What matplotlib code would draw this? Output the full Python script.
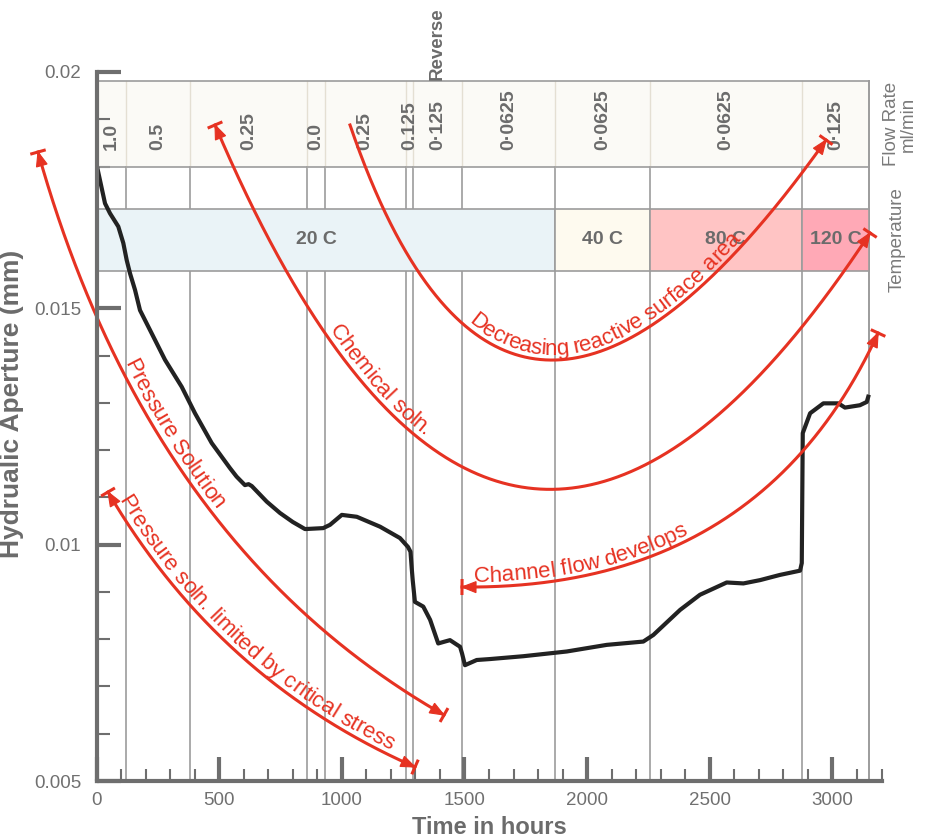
import numpy as np
import matplotlib
matplotlib.use("Agg")
import matplotlib.pyplot as plt
from matplotlib.font_manager import FontProperties
from matplotlib.patches import Polygon, Rectangle

plt.rcParams['font.family'] = ['Liberation Sans', 'DejaVu Sans']

# ---------------- data ----------------
time_h = [0.8, 0.8, 34.7, 55.0, 88.9, 109.3, 123.1, 136.6, 157.0, 177.3, 225.0, 279.3,
          347.3, 401.5, 469.6, 544, 571, 605, 620, 633, 694, 748,
          800, 850, 924, 952, 1000, 1061, 1156, 1237, 1270, 1280, 1285, 1289, 1298,
          1332, 1360, 1393, 1420, 1441, 1482, 1490, 1502, 1550, 1604, 1740, 1917,
          2080, 2229, 2270, 2379, 2460, 2569, 2637, 2705, 2786, 2868, 2875, 2877,
          2879, 2909, 2963, 3024, 3051, 3112, 3140, 3146]
aperture_mm = [0.01856, 0.01803, 0.01722, 0.01701, 0.01673, 0.01638, 0.01602, 0.01574,
               0.01539, 0.01496, 0.01447, 0.01391, 0.01334, 0.01278, 0.01215,
               0.01162, 0.01144, 0.01126, 0.01128, 0.01124, 0.01091, 0.01067,
               0.01048, 0.01033, 0.01035, 0.01042, 0.01063, 0.01059, 0.01038, 0.01014,
               0.00995, 0.00985, 0.00950, 0.00925, 0.00879, 0.00869, 0.00841, 0.00791,
               0.00795, 0.00798, 0.00784, 0.00770, 0.00745, 0.00756, 0.00758, 0.00764,
               0.00774, 0.00788, 0.00795, 0.00809, 0.00862, 0.00894, 0.00920, 0.00918,
               0.00925, 0.00936, 0.00945, 0.00961, 0.01100, 0.01236, 0.01278, 0.01299,
               0.01299, 0.01290, 0.01295, 0.01302, 0.01313]

flow_edges = [0, 120, 380, 860, 930, 1260, 1290, 1490, 1870, 2255, 2875, 3150]
flow_labels = ['1.0', '0.5', '0.25', '0.0', '0.25', '0.125', '0\u00b7125',
               '0\u00b70625', '0\u00b70625', '0\u00b70625', '0\u00b7125']
flow_band = (0.0180, 0.0198)

temp_edges = [0, 1870, 2255, 2875, 3150]
temp_labels = ['20 C', '40 C', '80 C', '120 C']
temp_colors = ['#EAF3F7', '#FEFAEF', '#FFC4C4', '#FFA9B6']
temp_band = (0.0158, 0.0171)

x_ticks = [0, 500, 1000, 1500, 2000, 2500, 3000]
x_minor = list(range(0, 3201, 100))
y_ticks = [0.005, 0.01, 0.015, 0.02]
y_ticklabels = ['0.005', '0.01', '0.015', '0.02']
y_minor = [0.005 + 0.001 * i for i in range(16)]

# annotation curves: quadratic Bezier control points (hours, mm)
arc_pressure = [(-238.5, 0.018307), (214.0, 0.009961), (1416.6, 0.006396)]
arc_critical = [(46.9, 0.011114), (497.4, 0.007126), (1298.4, 0.005296)]
arc_chemical = [(483.1, 0.018879), (1644.9, 0.004704), (3153.3, 0.016594)]
arc_surface = [(1033.4, 0.018879), (1677.5, 0.009094), (2973.9, 0.018561)]
arc_channel = [(1490.0, 0.009104), (2704.9, 0.009041), (3186.1, 0.014478)]

annotations = [
    # points, text, text start (px along curve), heads at (start, end)
    (arc_pressure, 'Pressure Solution', 228, (True, True)),
    (arc_critical, 'Pressure soln. limited by critical stress', 12, (True, True)),
    (arc_chemical, 'Chemical soln.', 235, (True, True)),
    (arc_surface, 'Decreasing reactive surface area', 234, (False, True)),
    (arc_channel, 'Channel flow develops', 12, (True, True)),
]

RED = '#E63222'
GREY_TXT = '#6b6b6b'
AX_GREY = '#6e6e6e'

# ---------------- figure ----------------
fig = plt.figure(figsize=(9.35, 8.4), dpi=100)
ax = fig.add_axes([96.5 / 935, 1 - 781 / 840, 785 / 935, 709 / 840])
ax.set_xlim(0, 3200)
ax.set_ylim(0.005, 0.02)

for s in ['top', 'right']:
    ax.spines[s].set_visible(False)
for s in ['left', 'bottom']:
    ax.spines[s].set_color(AX_GREY)
    ax.spines[s].set_linewidth(3)
    ax.spines[s].set_zorder(7)

ax.set_xticks(x_ticks)
ax.set_xticks(x_minor, minor=True)
ax.set_yticks(y_ticks)
ax.set_yticklabels(y_ticklabels)
ax.set_yticks(y_minor, minor=True)
ax.tick_params(which='major', direction='in', length=17, width=3, color=AX_GREY,
               labelsize=13.5, labelcolor='#707070', top=False, right=False)
ax.tick_params(which='minor', direction='in', length=9, width=1.5, color=AX_GREY,
               top=False, right=False)
ax.tick_params(axis='x', which='major', pad=8)
ax.tick_params(axis='y', which='major', pad=11)

lab_fp = dict(family=['Liberation Sans Narrow', 'Liberation Sans'], weight='bold',
              color=GREY_TXT)
ax.set_xlabel('Time in hours', fontsize=17, labelpad=5, **lab_fp)
ax.set_ylabel('Hydrualic Aperture (mm)', fontsize=19, **lab_fp)
ax.yaxis.set_label_coords(-0.092, 0.532)

xr = flow_edges[-1]
# flow-rate band
ax.add_patch(Rectangle((0, flow_band[0]), xr, flow_band[1] - flow_band[0],
                       facecolor='#FBFAF6', edgecolor='none', zorder=0.5))
for x in flow_edges[1:-1]:
    ax.plot([x, x], [0.005, flow_band[0]], color='#9c9c9c', lw=1.2, zorder=1)
    ax.plot([x, x], [flow_band[0], flow_band[1]], color='#e4dfd3', lw=1.0, zorder=1)
ax.plot([xr, xr], [0.005, flow_band[1]], color='#9c9c9c', lw=1.4, zorder=2, clip_on=False)
for y in flow_band:
    ax.plot([0, xr], [y, y], color='#9c9c9c', lw=1.2, zorder=2)
for i, lab in enumerate(flow_labels):
    xc = 0.5 * (flow_edges[i] + flow_edges[i + 1])
    ax.text(xc, 0.01835, lab, rotation=90, ha='center', va='bottom', fontsize=14,
            fontweight='bold', color=GREY_TXT, zorder=3)

# temperature band
for i, lab in enumerate(temp_labels):
    x0, x1 = temp_edges[i], temp_edges[i + 1]
    ax.add_patch(Rectangle((x0, temp_band[0]), x1 - x0, temp_band[1] - temp_band[0],
                           facecolor=temp_colors[i], edgecolor='#9c9c9c', lw=1.2,
                           zorder=2))
    ax.text(0.5 * (x0 + x1) - (40 if i == 0 else 0), 0.5 * sum(temp_band), lab,
            ha='center', va='center', fontsize=14, fontweight='bold',
            color=GREY_TXT, zorder=3)

ax.text(1390, flow_band[1] + 0.00003, 'Reverse', rotation=90, ha='center', va='bottom',
        fontsize=13.5, fontweight='bold', color=GREY_TXT, clip_on=False)
ax.text(3275, 0.01890, 'Flow Rate\nml/min', rotation=90, ha='center', va='center',
        multialignment='center', fontsize=13.5, color='#7a7a7a', clip_on=False,
        linespacing=1.0)
ax.text(3265, 0.01645, 'Temperature', rotation=90, ha='center', va='center',
        fontsize=13.5, color='#7a7a7a', clip_on=False)

# data curve
ax.plot(time_h, aperture_mm, color='#222222', lw=3, zorder=4, solid_joinstyle='round')

# ---------------- annotations ----------------
renderer = fig.canvas.get_renderer()
ann_fp = FontProperties(family=['Liberation Sans', 'DejaVu Sans'], size=16)
to_disp = ax.transData.transform
to_data = ax.transData.inverted().transform
to_fig = fig.transFigure.inverted().transform


def bezier(P, n=3000):
    P = np.asarray(P, dtype=float)
    t = np.linspace(0, 1, n)[:, None]
    return (1 - t) ** 2 * P[0] + 2 * t * (1 - t) * P[1] + t ** 2 * P[2]


def head(tip, direction):
    d = direction / np.hypot(*direction)
    n = np.array([-d[1], d[0]])
    L, W, B = 14, 5.5, 8
    base = tip - d * L
    tri = to_data(np.array([tip, base + n * W, base - n * W]))
    ax.add_patch(Polygon(tri, closed=True, facecolor=RED, edgecolor=RED, lw=0.8,
                         clip_on=False, zorder=6))
    bar = to_data(np.array([tip + n * B, tip - n * B]))
    ax.plot(bar[:, 0], bar[:, 1], color=RED, lw=2.2, clip_on=False, zorder=6,
            solid_capstyle='butt')


def width(s):
    return renderer.get_text_width_height_descent(s + 'I', ann_fp, ismath=False)[0] - \
        renderer.get_text_width_height_descent('I', ann_fp, ismath=False)[0]


for pts, text, s0, heads in annotations:
    curve = bezier(pts)
    ax.plot(curve[:, 0], curve[:, 1], color=RED, lw=2.2, clip_on=False, zorder=5)
    disp = to_disp(curve)
    seg = np.hypot(*np.diff(disp, axis=0).T)
    arc = np.concatenate([[0], np.cumsum(seg)])
    if heads[0]:
        head(disp[0], disp[0] - disp[12])
    if heads[1]:
        head(disp[-1], disp[-1] - disp[-13])
    pos = [width(text[:i]) for i in range(len(text) + 1)]
    for i, ch in enumerate(text):
        if ch == ' ':
            continue
        s = s0 + 0.5 * (pos[i] + pos[i + 1])
        j = int(np.clip(np.searchsorted(arc, s), 1, len(arc) - 2))
        p = disp[j]
        d = disp[j + 1] - disp[j - 1]
        d = d / np.hypot(*d)
        nrm = np.array([-d[1], d[0]])
        q = p + nrm * 5
        ang = np.degrees(np.arctan2(d[1], d[0]))
        fx, fy = to_fig(q)
        fig.text(fx, fy, ch, fontproperties=ann_fp, color=RED, rotation=ang,
                 rotation_mode='anchor', ha='center', va='baseline', zorder=8)

fig.savefig('out.png', dpi=100)
